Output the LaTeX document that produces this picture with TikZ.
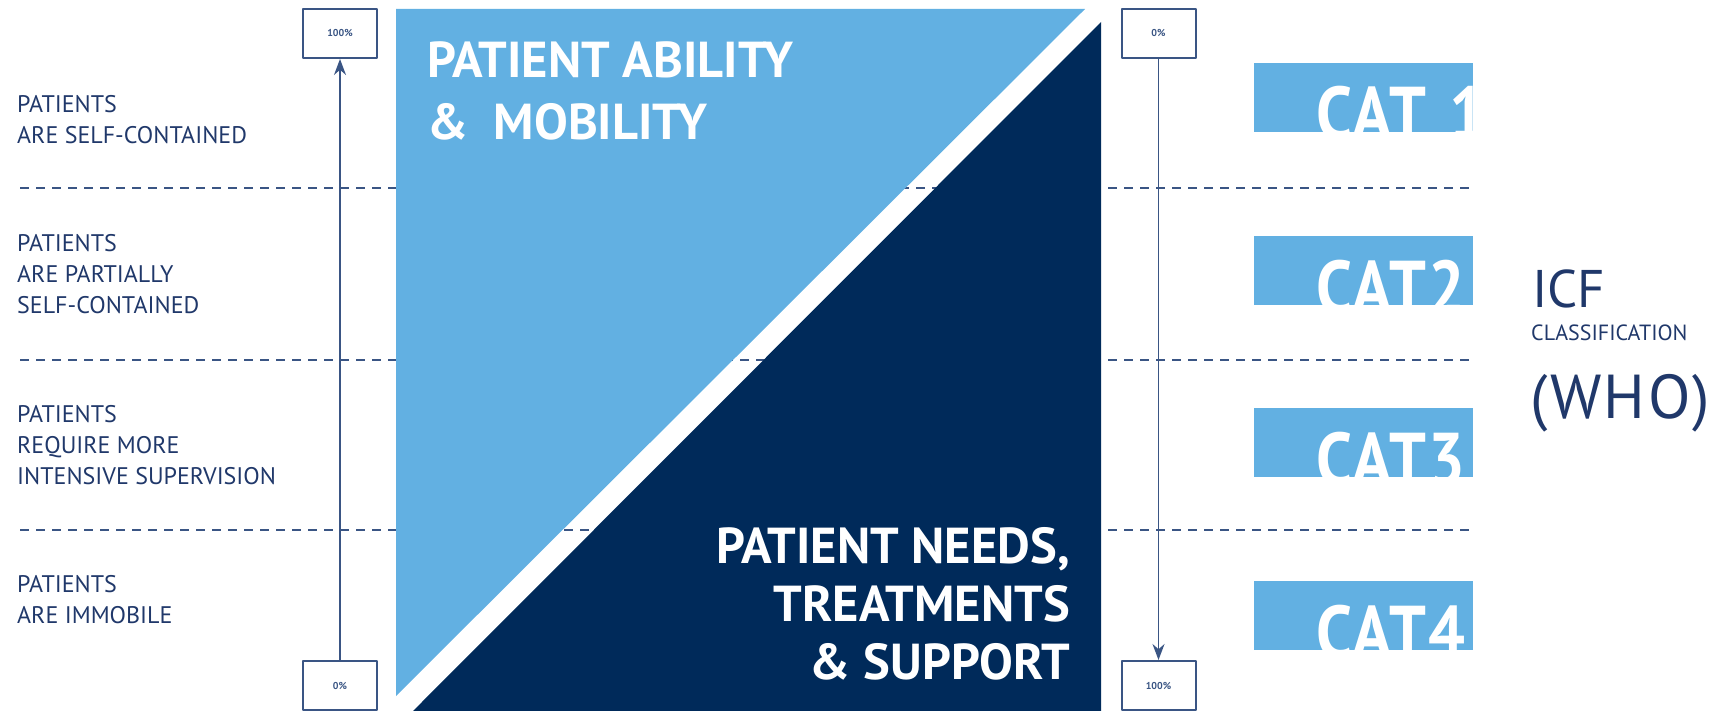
\documentclass[tikz,border=0pt]{standalone}
\usepackage{fontspec}
\setmainfont{PT Sans}
\newfontfamily\catfont[LetterSpace=4]{PT Sans}
\usetikzlibrary{arrows.meta}
\definecolor{skyblue}{RGB}{98,176,226}
\definecolor{deepnavy}{RGB}{0,42,90}
\definecolor{inknavy}{RGB}{32,56,106}
\definecolor{rulenavy}{RGB}{58,85,132}
\tikzset{
  pctbox/.style={draw=rulenavy, line width=2pt, fill=white, minimum width=74pt, minimum height=49pt, inner sep=0pt, text=rulenavy, font=\fontsize{10}{10}\selectfont\bfseries},
  bandlabel/.style={anchor=north west, inner sep=0pt, align=left, text=inknavy, font=\fontsize{24}{31}\selectfont},
  headline/.style={inner sep=0pt, text=white, font=\fontsize{50.5}{62}\selectfont\bfseries},
  catlabel/.style={anchor=base west, inner sep=0pt, text=white, font=\fontsize{65}{65}\catfont\bfseries},
  sidetext/.style={inner sep=0pt, text=inknavy}
}
\begin{document}
\begin{tikzpicture}[x=1pt, y=-1pt, line join=round, >={Stealth[length=16pt,width=12pt]}]
\useasboundingbox (0,0) rectangle (1736,711);
\foreach \y in {188,360,530} \draw[rulenavy, line width=1.3pt, dash pattern=on 9pt off 7pt] (20,\y) -- (1470,\y);
\fill[skyblue] (396,9) -- (1085,9) -- (396,696) -- cycle;
\fill[deepnavy] (1101,22) -- (1101,711) -- (413,711) -- cycle;
\node[headline, anchor=north west, align=left] (ability) at (427,41) {PATIENT ABILITY\\\&\ \ MOBILITY};
\node[headline, anchor=north east, align=right, font=\fontsize{50.5}{58}\selectfont\bfseries] (needs) at (1070,527) {PATIENT NEEDS,\\TREATMENTS\\\& SUPPORT};
\node[bandlabel] (selfcont) at (17,95) {PATIENTS\\ARE SELF-CONTAINED};
\node[bandlabel] (partial) at (17,234) {PATIENTS\\ARE PARTIALLY\\SELF-CONTAINED};
\node[bandlabel] (supervis) at (17,405) {PATIENTS\\REQUIRE MORE\\INTENSIVE SUPERVISION};
\node[bandlabel] (immobile) at (17,575) {PATIENTS\\ARE IMMOBILE};
\node[pctbox] (abilfull) at (340,33.5) {100\%}; \node[pctbox] (abilnone) at (340,685.5) {0\%};
\node[pctbox] (neednone) at (1158.5,33.5) {0\%}; \node[pctbox] (needfull) at (1158.5,685.5) {100\%};
\draw[->, rulenavy, line width=1.6pt] (abilnone) -- (abilfull);
\draw[->, rulenavy, line width=1.6pt] (neednone) -- (needfull);
\foreach \n/\txt/\y in {1/CAT\hspace{4pt} 1/63,2/CAT2/236,3/CAT3/408,4/CAT4/581}{
  \fill[skyblue] (1254,\y) rectangle (1473,\y+69);
  \begin{scope}
    \clip (1254,\y) rectangle (1473,\y+69);
    \node[catlabel] (cat\n) at (1316,\y+77) {\scalebox{1}[1.15]{\txt}};
  \end{scope}
}
\node[sidetext, anchor=north west, font=\fontsize{53}{53}\selectfont] (icf) at (1532,270) {ICF};
\node[sidetext, anchor=north west, font=\fontsize{22}{22}\selectfont] (classif) at (1531,325) {CLASSIFICATION};
\node[sidetext, anchor=base west, font=\fontsize{62}{62}\selectfont\addfontfeature{LetterSpace=4}] (who) at (1530,418) {(WHO)};
\end{tikzpicture}
\end{document}
